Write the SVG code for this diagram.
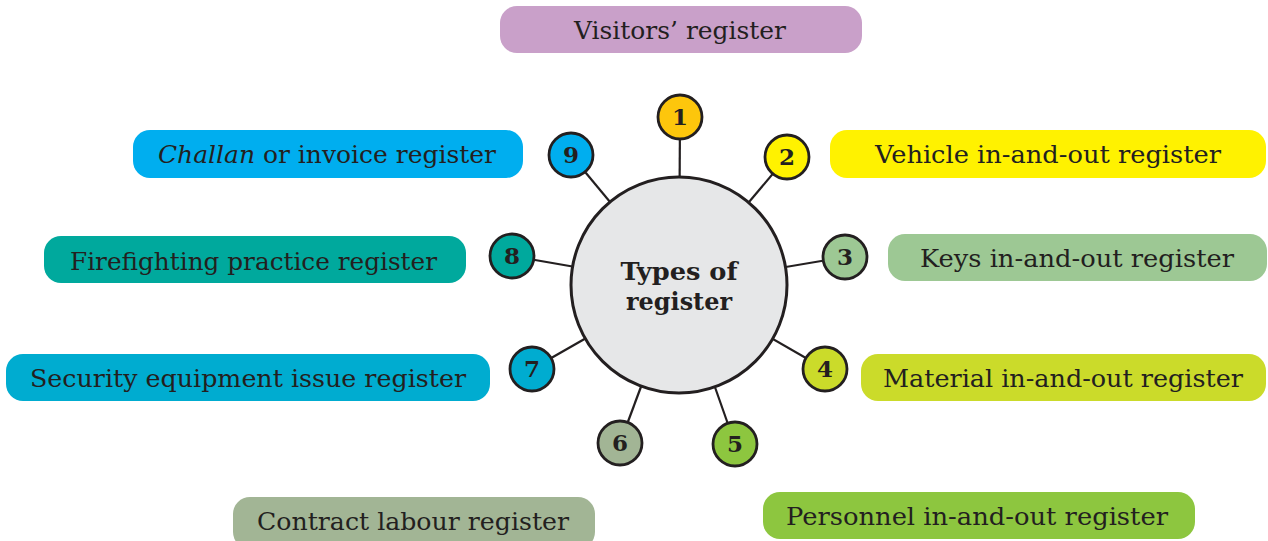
<svg xmlns="http://www.w3.org/2000/svg" width="1268" height="541" viewBox="0 0 1268 541">
<style>
.pill text, .lbl { font-family: "DejaVu Serif", "Liberation Serif", serif; font-size: 24px; fill: #231f20; }
.num { font-family: "DejaVu Serif", "Liberation Serif", serif; font-size: 23px; font-weight: bold; fill: #231f20; text-anchor: middle; }
.dot { stroke: #231f20; stroke-width: 2.8; }
.conn line { stroke: #231f20; stroke-width: 2.2; }
.hub { fill: #e6e7e8; stroke: #231f20; stroke-width: 3; }
.title { font-family: "DejaVu Serif", "Liberation Serif", serif; font-size: 25px; font-weight: bold; fill: #231f20; text-anchor: middle; }
</style>
<rect width="1268" height="541" fill="#ffffff"/>

<g id="connectors" class="conn">
  <line x1="679" y1="285" x2="680" y2="117"/>
  <line x1="679" y1="285" x2="787" y2="157"/>
  <line x1="679" y1="285" x2="845" y2="257"/>
  <line x1="679" y1="285" x2="825" y2="369"/>
  <line x1="679" y1="285" x2="735" y2="444"/>
  <line x1="679" y1="285" x2="620" y2="443"/>
  <line x1="679" y1="285" x2="532" y2="369"/>
  <line x1="679" y1="285" x2="512" y2="256"/>
  <line x1="679" y1="285" x2="571" y2="155"/>
</g>

<g id="hub">
  <circle class="hub" cx="679" cy="285" r="108"/>
  <text class="title" x="679" y="280" textLength="117" lengthAdjust="spacingAndGlyphs">Types of</text>
  <text class="title" x="679" y="310" textLength="106" lengthAdjust="spacingAndGlyphs">register</text>
</g>

<g id="n1"><circle class="dot" cx="680" cy="117" r="22" fill="#fdc60c"/><text class="num" x="680" y="125">1</text></g>
<g id="n2"><circle class="dot" cx="787" cy="157" r="22" fill="#fff200"/><text class="num" x="787" y="165">2</text></g>
<g id="n3"><circle class="dot" cx="845" cy="257" r="22" fill="#9dc894"/><text class="num" x="845" y="265">3</text></g>
<g id="n4"><circle class="dot" cx="825" cy="369" r="22" fill="#cbdb2a"/><text class="num" x="825" y="377">4</text></g>
<g id="n5"><circle class="dot" cx="735" cy="444" r="22" fill="#8dc63f"/><text class="num" x="735" y="452">5</text></g>
<g id="n6"><circle class="dot" cx="620" cy="443" r="22" fill="#a2b595"/><text class="num" x="620" y="451">6</text></g>
<g id="n7"><circle class="dot" cx="532" cy="369" r="22" fill="#00acd0"/><text class="num" x="532" y="377">7</text></g>
<g id="n8"><circle class="dot" cx="512" cy="256" r="22" fill="#00a99d"/><text class="num" x="512" y="264">8</text></g>
<g id="n9"><circle class="dot" cx="571" cy="155" r="22" fill="#00aeef"/><text class="num" x="571" y="163">9</text></g>

<g id="p-visitors" class="pill">
  <rect x="500" y="6" width="362" height="47" rx="17" fill="#c9a0c9"/>
  <text x="574" y="39" textLength="212" lengthAdjust="spacingAndGlyphs">Visitors’ register</text>
</g>
<g id="p-challan" class="pill">
  <rect x="133" y="130" width="390" height="48" rx="17" fill="#00aeef"/>
  <text x="158" y="163" textLength="338" lengthAdjust="spacingAndGlyphs"><tspan font-style="italic">Challan</tspan> or invoice register</text>
</g>
<g id="p-vehicle" class="pill">
  <rect x="830" y="130" width="436" height="48" rx="17" fill="#fff200"/>
  <text x="875" y="163" textLength="346" lengthAdjust="spacingAndGlyphs">Vehicle in-and-out register</text>
</g>
<g id="p-fire" class="pill">
  <rect x="44" y="236" width="422" height="47" rx="17" fill="#00a99d"/>
  <text x="70" y="270" textLength="367" lengthAdjust="spacingAndGlyphs">Firefighting practice register</text>
</g>
<g id="p-keys" class="pill">
  <rect x="888" y="234" width="379" height="47" rx="17" fill="#9dc894"/>
  <text x="920" y="267" textLength="314" lengthAdjust="spacingAndGlyphs">Keys in-and-out register</text>
</g>
<g id="p-security" class="pill">
  <rect x="6" y="354" width="484" height="47" rx="17" fill="#00acd0"/>
  <text x="30" y="387" textLength="436" lengthAdjust="spacingAndGlyphs">Security equipment issue register</text>
</g>
<g id="p-material" class="pill">
  <rect x="861" y="354" width="405" height="47" rx="17" fill="#cbdb2a"/>
  <text x="883" y="387" textLength="360" lengthAdjust="spacingAndGlyphs">Material in-and-out register</text>
</g>
<g id="p-contract" class="pill">
  <rect x="233" y="497" width="362" height="52" rx="17" fill="#a2b595"/>
  <text x="257" y="530" textLength="312" lengthAdjust="spacingAndGlyphs">Contract labour register</text>
</g>
<g id="p-personnel" class="pill">
  <rect x="763" y="492" width="432" height="47" rx="17" fill="#8dc63f"/>
  <text x="786" y="525" textLength="382" lengthAdjust="spacingAndGlyphs">Personnel in-and-out register</text>
</g>
</svg>
